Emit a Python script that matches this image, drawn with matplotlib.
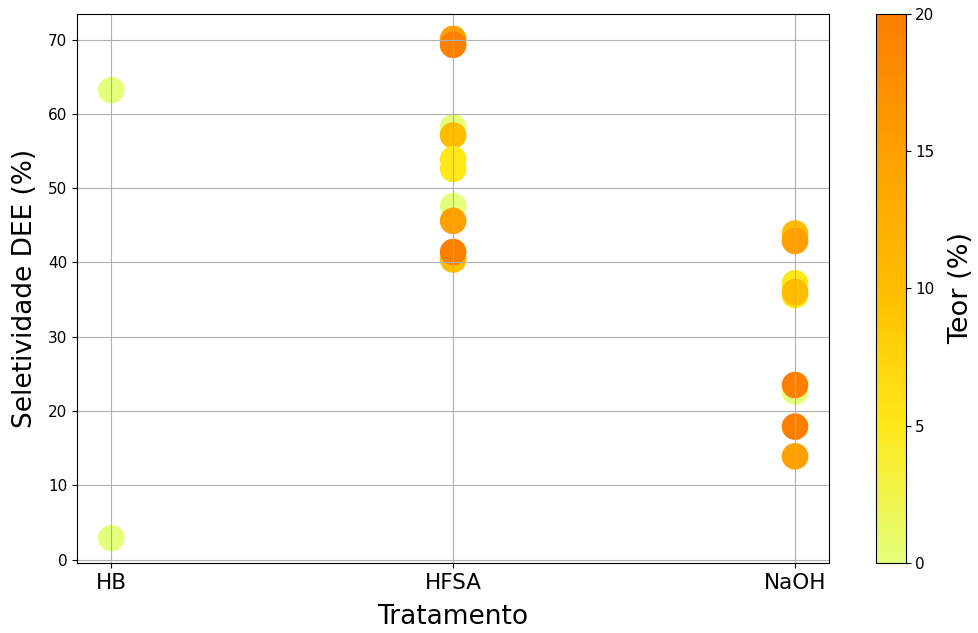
import numpy as np
import matplotlib
matplotlib.use('Agg')
import matplotlib.pyplot as plt

# dados
tratamento = ['HB', 'HB',
              'HFSA', 'HFSA', 'HFSA', 'HFSA', 'HFSA', 'HFSA', 'HFSA', 'HFSA', 'HFSA', 'HFSA',
              'NaOH', 'NaOH', 'NaOH', 'NaOH', 'NaOH', 'NaOH', 'NaOH', 'NaOH', 'NaOH']
seletividade = [63.2, 2.9,
                70.1, 69.3, 58.2, 57.1, 53.9, 52.6, 47.6, 45.6, 40.4, 41.4,
                43.9, 42.9, 37.2, 35.6, 36.0, 22.6, 23.5, 17.9, 13.9]
teor = [0, 0,
        15, 20, 0, 10, 5, 5, 0, 15, 10, 20,
        10, 15, 5, 5, 10, 0, 20, 20, 15]

categorias = ['HB', 'HFSA', 'NaOH']
x = np.array([categorias.index(t) for t in tratamento])

fig = plt.figure(figsize=(9.79, 6.33), dpi=100)
ax = fig.add_axes([0.0787, 0.1106, 0.7683, 0.8674])
cax = fig.add_axes([0.895, 0.1106, 0.030, 0.8674])

sc = ax.scatter(x, seletividade, c=teor, cmap='Wistia', vmin=0, vmax=20, s=330)
ax.grid(True)

ax.set_xticks(range(len(categorias)))
ax.set_xticklabels(categorias, fontsize=15.5)
ax.tick_params(axis='y', labelsize=11)
ax.set_xlabel('Tratamento', fontsize=19, labelpad=8)
ax.set_ylabel('Seletividade DEE (%)', fontsize=19, labelpad=7)

cb = fig.colorbar(sc, cax=cax)
cb.set_ticks([0, 5, 10, 15, 20])
cb.ax.tick_params(labelsize=11)
cb.set_label('Teor (%)', fontsize=19.5, labelpad=10)

fig.savefig('out.png', dpi=100)
